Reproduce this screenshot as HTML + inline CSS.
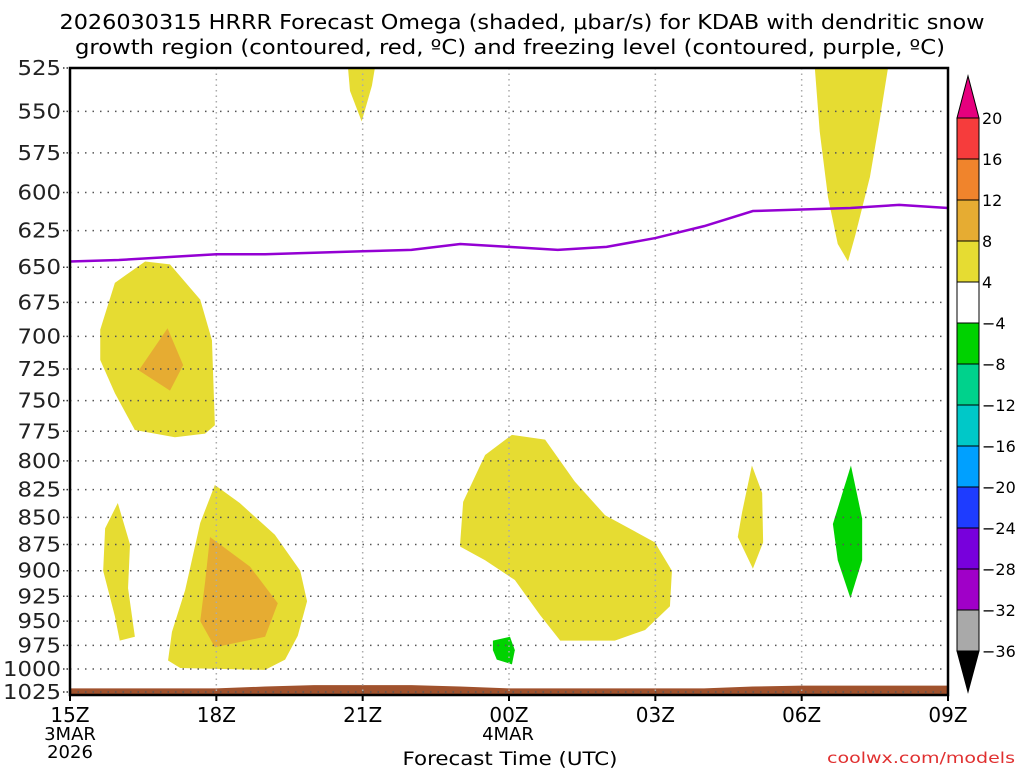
<!DOCTYPE html>
<html><head><meta charset="utf-8"><style>
body{margin:0;background:#fff;width:1024px;height:768px;overflow:hidden}
svg{font-family:"DejaVu Sans","Liberation Sans",sans-serif}
</style></head><body>
<svg id="s" width="1024" height="768">
<text x="522" y="29" text-anchor="middle" font-size="20" textLength="925" lengthAdjust="spacingAndGlyphs">2026030315 HRRR Forecast Omega (shaded, μbar/s) for KDAB with dendritic snow</text>
<text x="510" y="54" text-anchor="middle" font-size="20" textLength="870" lengthAdjust="spacingAndGlyphs">growth region (contoured, red, ºC) and freezing level (contoured, purple, ºC)</text>
<text x="510" y="765" text-anchor="middle" font-size="19" textLength="215" lengthAdjust="spacingAndGlyphs">Forecast Time (UTC)</text>
<text x="1015" y="763" text-anchor="end" font-size="15" fill="#e03030" textLength="188" lengthAdjust="spacingAndGlyphs">coolwx.com/models</text>
</svg>
<script>
const hours=[0,3,6,9,12,15,18];
const hourLabels=['15Z','18Z','21Z','00Z','03Z','06Z','09Z'];
const pLevels=[525,550,575,600,625,650,675,700,725,750,775,800,825,850,875,900,925,950,975,1000,1025];
const frzHours=[0,1,2,3,4,5,6,7,8,9,10,11,12,13,14,15,16,17,18];
const frzP=[646,645,643,641,641,640,639,638,634,636,638,636,630,622,612,611,610,608,610];
const sfcP=[1021,1021,1021,1021,1019,1017.5,1017.5,1017.5,1019,1021,1021,1021,1021,1021,1019,1018,1018,1018,1018];
const yellowA=[[1.54,646],[2.05,648],[2.67,673],[2.91,703],[2.97,770],[2.77,777],[2.15,780],[1.33,774],[0.92,744],[0.62,718],[0.62,695],[0.92,661]];
const orangeA=[[2.0,694],[2.32,722],[2.05,742],[1.41,726]];
const yellowB=[[0.98,837],[1.23,875],[1.19,917],[1.33,966],[1.02,970],[0.92,945],[0.68,900],[0.72,860]];
const yellowC=[[2.97,821],[3.48,837],[4.2,866],[4.72,900],[4.86,930],[4.67,965],[4.41,990],[4.0,1001],[2.26,999],[2.01,991],[2.09,961],[2.36,919],[2.67,855]];
const orangeC=[[2.87,868],[3.69,896],[4.26,932],[4.0,966],[2.97,977],[2.67,950],[2.77,911]];
const yellowD=[[5.7,525],[6.25,525],[6.19,535],[5.98,556],[5.74,538]];
const yellowE=[[8.0,873],[8.06,836],[8.51,795],[9.06,778],[9.74,782],[10.35,818],[10.97,848],[11.99,873],[12.34,900],[12.3,935],[11.79,959],[11.17,970],[10.05,970],[9.64,944],[9.12,909],[8.51,890],[8.0,877]];
const greenF=[[8.67,970],[9.02,966],[9.12,980],[9.06,995],[8.75,990],[8.67,980]];
const yellowG=[[13.98,804],[14.19,828],[14.21,873],[14.0,898],[13.69,868],[13.78,845]];
const greenH=[[16.01,804],[16.24,851],[16.24,890],[16.0,927],[15.74,890],[15.64,856]];
const yellowI=[[15.27,525],[16.77,525],[16.6,555],[16.4,590],[16.1,628],[15.95,646],[15.74,634],[15.54,603],[15.37,562]];
const cbLabels=['20','16','12','8','4','−4','−8','−12','−16','−20','−24','−28','−32','−36'];
const cbColors=['#f63c3c','#f0842c','#e6ac32','#e6dc32','#ffffff','#00d200','#00d28c','#00c8c8','#00a0ff','#1e3cff','#7800dc','#a000c8','#a9a9a9'];

const X0=70,X1=948,Y0=68,YB=695,K=932.7;
const xs=h=>X0+h*(X1-X0)/18;
const ys=p=>Y0+Math.log(p/525)*K;
const s=document.getElementById('s');
const NS='http://www.w3.org/2000/svg';
function mk(t,a){const e=document.createElementNS(NS,t);for(const k in a)e.setAttribute(k,a[k]);s.appendChild(e);return e;}
function poly(pts,fill,name){const e=mk('polygon',{points:pts.map(q=>xs(q[0])+','+ys(q[1])).join(' '),fill:fill});

}
poly(yellowA,'#e6dc32','omega-yellow-a');poly(orangeA,'#e6ac32','omega-orange-a');
poly(yellowB,'#e6dc32','omega-yellow-b');poly(yellowC,'#e6dc32','omega-yellow-c');
poly(orangeC,'#e6ac32','omega-orange-c');poly(yellowD,'#e6dc32','omega-yellow-d');
poly(yellowE,'#e6dc32','omega-yellow-e');poly(greenF,'#00d200','omega-green-f');
poly(yellowG,'#e6dc32','omega-yellow-g');poly(greenH,'#00d200','omega-green-h');
poly(yellowI,'#e6dc32','omega-yellow-i');
{let pts=frzHours.map((h,i)=>xs(h)+','+ys(sfcP[i]));pts.push(X1+','+YB,X0+','+YB);
const g=mk('polygon',{points:pts.join(' '),fill:'#a0522d'});

}
pLevels.forEach(p=>{const y=ys(p);
const l=mk('line',{x1:X0,x2:X1,y1:y,y2:y,stroke:'#555','stroke-width':1.5,'stroke-dasharray':'1.5 6'});


const t=mk('text',{x:61,y:y+7,'text-anchor':'end','font-size':20,fill:'#222',textLength:String(p).length*14.5,lengthAdjust:'spacingAndGlyphs'});t.textContent=p;


const tk=mk('line',{x1:63,x2:68,y1:y,y2:y,stroke:'#333','stroke-width':1.5,'stroke-dasharray':'1.5 2'});

});
hours.forEach((h,i)=>{const x=xs(h);
if(i>0&&i<hours.length-1){const l=mk('line',{x1:x,x2:x,y1:Y0,y2:YB,stroke:'#aaa','stroke-width':1.5,'stroke-dasharray':'1.5 4'});

}
const tk=mk('line',{x1:x,x2:x,y1:YB,y2:YB+6,stroke:'#000','stroke-width':2});


const t=mk('text',{x:x,y:722,'text-anchor':'middle','font-size':20});t.textContent=hourLabels[i];

});
[['3MAR',70,740],['2026',70,758],['4MAR',508,740]].forEach(a=>{const t=mk('text',{x:a[1],y:a[2],'text-anchor':'middle','font-size':18});t.textContent=a[0];

});
{const l=mk('polyline',{points:frzHours.map((h,i)=>xs(h)+','+ys(frzP[i])).join(' '),fill:'none',stroke:'#9400d3','stroke-width':2.5});

}
{const f=mk('rect',{x:X0,y:Y0,width:X1-X0,height:YB-Y0,fill:'none',stroke:'#000','stroke-width':2.5});

}
const CX=957,CW=22,CT=118,CH=41;
{const t=mk('polygon',{points:`${CX},${CT} ${CX+CW},${CT} ${CX+CW/2},76`,fill:'#e6007e',stroke:'#000'});


const b=mk('polygon',{points:`${CX},${CT+13*CH} ${CX+CW},${CT+13*CH} ${CX+CW/2},692`,fill:'#000',stroke:'#000'});

}
cbColors.forEach((c,i)=>{const r=mk('rect',{x:CX,y:CT+i*CH,width:CW,height:CH,fill:c,stroke:'#000','stroke-width':1});

});
cbLabels.forEach((l,i)=>{const t=mk('text',{x:982,y:CT+i*CH+6,'font-size':16});t.textContent=l;

});
</script>
</body></html>
